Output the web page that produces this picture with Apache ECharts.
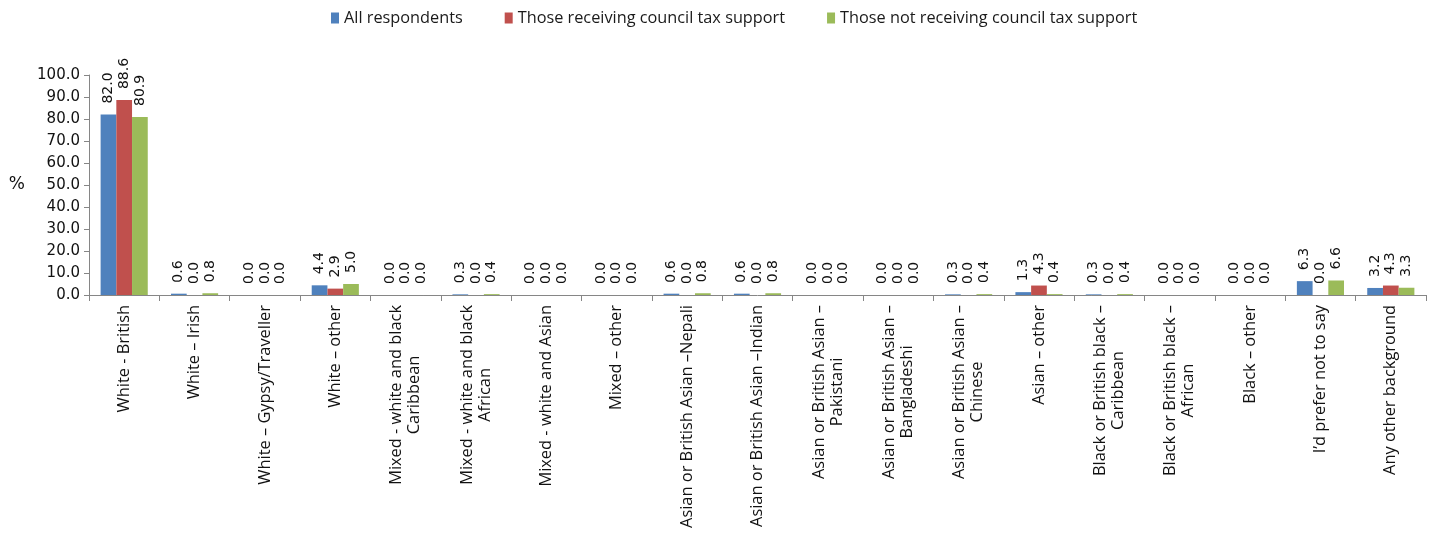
<!DOCTYPE html>
<html>
<head>
<meta charset="utf-8">
<script src="https://cdn.jsdelivr.net/npm/echarts@6/dist/echarts.min.js"></script>
<style>
  html, body { margin: 0; padding: 0; background: #fff; }
  #chart { width: 1432px; height: 533px; }
</style>
</head>
<body>
<div id="chart"></div>
<script>
// Ethnic background of respondents, split by council tax support status (%)
const categories = [
  'White - British',
  'White \u2013 Irish',
  'White \u2013 Gypsy/Traveller',
  'White \u2013 other',
  'Mixed - white and black\nCaribbean',
  'Mixed - white and black\nAfrican',
  'Mixed - white and Asian',
  'Mixed \u2013 other',
  'Asian or British Asian \u2013Nepali',
  'Asian or British Asian \u2013Indian',
  'Asian or British Asian \u2013\nPakistani',
  'Asian or British Asian \u2013\nBangladeshi',
  'Asian or British Asian \u2013\nChinese',
  'Asian \u2013 other',
  'Black or British black \u2013\nCaribbean',
  'Black or British black \u2013\nAfrican',
  'Black \u2013 other',
  'I\u2019d prefer not to say',
  'Any other background'
];

const seriesNames = [
  'All respondents',
  'Those receiving council tax support',
  'Those not receiving council tax support'
];

const allRespondents = [82.0, 0.6, 0.0, 4.4, 0.0, 0.3, 0.0, 0.0, 0.6, 0.6, 0.0, 0.0, 0.3, 1.3, 0.3, 0.0, 0.0, 6.3, 3.2];
const receivingSupport = [88.6, 0.0, 0.0, 2.9, 0.0, 0.0, 0.0, 0.0, 0.0, 0.0, 0.0, 0.0, 0.0, 4.3, 0.0, 0.0, 0.0, 0.0, 4.3];
const notReceivingSupport = [80.9, 0.8, 0.0, 5.0, 0.0, 0.4, 0.0, 0.0, 0.8, 0.8, 0.0, 0.0, 0.4, 0.4, 0.4, 0.0, 0.0, 6.6, 3.3];

const colors = ['#4F81BD', '#C0504D', '#9BBB59'];
const seriesValues = [allRespondents, receivingSupport, notReceivingSupport];

const chart = echarts.init(document.getElementById('chart'), null, { renderer: 'canvas' });

const axisGrey = '#868686';
const textFont = 'DejaVu Sans';
const catFont = 'Open Sans';

chart.setOption({
  animation: false,
  backgroundColor: '#ffffff',
  color: colors,
  legend: {
    top: 5,
    left: 326,
    itemWidth: 8,
    itemHeight: 11,
    itemGap: 42,
    icon: 'rect',
    textStyle: { fontFamily: catFont, fontSize: 16.3, color: '#1a1a1a', padding: [0, 0, 0, 0] },
    data: seriesNames
  },
  grid: { left: 89, right: 6, top: 75, bottom: 238, containLabel: false },
  xAxis: {
    type: 'category',
    data: categories,
    axisLine: { show: true, lineStyle: { color: axisGrey, width: 1 } },
    axisTick: { show: true, alignWithLabel: false, length: 6, lineStyle: { color: axisGrey } },
    axisLabel: {
      interval: 0,
      rotate: 90,
      margin: 10,
      color: '#111',
      fontFamily: catFont,
      fontSize: 16.4,
      lineHeight: 18,
      formatter: function (v) {
        return v.split('\n').map(function (s) { return '{c|' + s + '}'; }).join('\n');
      },
      rich: {
        c: { align: 'center', fontFamily: catFont, fontSize: 16.4, color: '#111', lineHeight: 18 }
      }
    }
  },
  yAxis: {
    type: 'value',
    min: 0,
    max: 100,
    interval: 10,
    name: '%',
    nameLocation: 'middle',
    nameRotate: 0,
    nameGap: 64,
    nameTextStyle: { fontFamily: textFont, fontSize: 17, color: '#111' },
    splitLine: { show: false },
    axisLine: { show: true, lineStyle: { color: axisGrey, width: 1 } },
    axisTick: { show: true, length: 5, inside: false, lineStyle: { color: axisGrey } },
    axisLabel: {
      margin: 9,
      color: '#111',
      fontFamily: textFont,
      fontSize: 15,
      formatter: function (v) { return v.toFixed(1); }
    }
  },
  series: seriesValues.map(function (vals, i) {
    return {
      name: seriesNames[i],
      type: 'bar',
      data: vals,
      barGap: '0%',
      barCategoryGap: '33%',
      itemStyle: { color: colors[i] },
      label: {
        show: true,
        position: 'top',
        rotate: 90,
        align: 'left',
        verticalAlign: 'middle',
        distance: 11,
        fontFamily: textFont,
        fontSize: 14,
        color: '#111',
        formatter: function (p) { return p.value.toFixed(1); }
      }
    };
  })
});
</script>
</body>
</html>
